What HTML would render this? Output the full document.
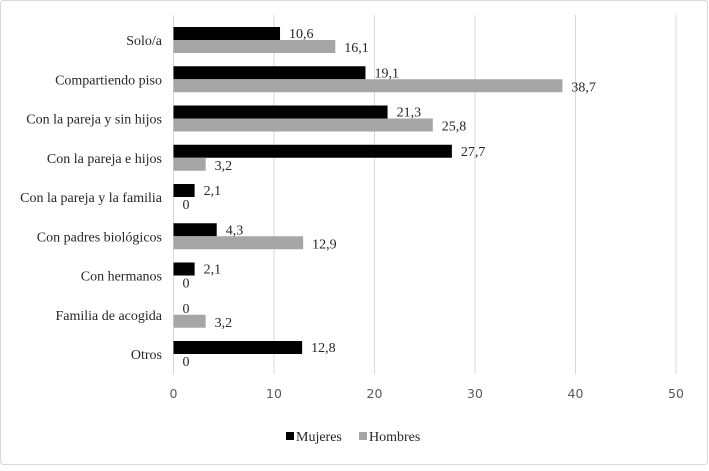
<!DOCTYPE html>
<html><head><meta charset="utf-8"><style>
body{margin:0;background:#fff}
svg text{font-family:"Liberation Serif","DejaVu Serif","Times New Roman",serif}
</style></head><body>
<svg id="c" width="709" height="466" xmlns="http://www.w3.org/2000/svg">
<rect x="0.5" y="0.5" width="707" height="464" rx="3" fill="#fff" stroke="#d9d9d9"/>
<g id="grid"></g><g id="bars"></g><g id="labels"></g>
<g font-family="Liberation Serif, DejaVu Serif, serif">
<rect x="286" y="432" width="8" height="8" fill="#000"/>
<text x="296" y="441" font-size="14" fill="#262626">Mujeres</text>
<rect x="359" y="432" width="8" height="8" fill="#a6a6a6"/>
<text x="369" y="441" font-size="14" fill="#262626">Hombres</text>
</g>
</svg>
<script>
const categories=["Solo/a","Compartiendo piso","Con la pareja y sin hijos","Con la pareja e hijos","Con la pareja y la familia","Con padres biológicos","Con hermanos","Familia de acogida","Otros"];
const mujeres=[10.6,19.1,21.3,27.7,2.1,4.3,2.1,0,12.8];
const hombres=[16.1,38.7,25.8,3.2,0,12.9,0,3.2,0];
const ticks=[0,10,20,30,40,50];
const NS="http://www.w3.org/2000/svg";
const SERIF='font-family:"Liberation Serif","DejaVu Serif",serif;font-size:14px';
const x0=173.5,pxPer=10.05,yTop=20.5,band=39.25,bh=13;
const xs=v=>x0+v*pxPer;
function mk(tag,attrs,parent,txt){const e=document.createElementNS(NS,tag);for(const k in attrs)e.setAttribute(k,attrs[k]);if(txt!==undefined)e.textContent=txt;document.getElementById(parent).appendChild(e);return e;}
ticks.forEach(t=>{
 const l=mk('line',{x1:xs(t),x2:xs(t),y1:15,y2:374,stroke:'#d9d9d9'},'grid');
 
 
 const tx=mk('text',{x:xs(t),y:398,'text-anchor':'middle',fill:'#595959',style:'font-family:"DejaVu Sans","Liberation Sans",sans-serif;font-size:12.5px'},'labels',t);
 
 
});
categories.forEach((c,i)=>{
 const y=yTop+i*band+6.5;
 const cl=mk('text',{x:162,y:y+bh+5,'text-anchor':'end',style:SERIF,fill:'#262626'},'labels',c);
 
 
 const m=mk('rect',{x:xs(0),y:y,width:xs(mujeres[i])-xs(0),height:bh,fill:'#000'},'bars');
 
 
 const h=mk('rect',{x:xs(0),y:y+bh,width:xs(hombres[i])-xs(0),height:bh,fill:'#a6a6a6'},'bars');
 
 
 const ml=mk('text',{x:xs(mujeres[i])+9,y:y+11,style:SERIF,fill:'#262626'},'labels',String(mujeres[i]).replace('.',','));
 
 
 const hl=mk('text',{x:xs(hombres[i])+9,y:y+bh+12,style:SERIF,fill:'#262626'},'labels',String(hombres[i]).replace('.',','));
 
 
});
</script>
</body></html>
